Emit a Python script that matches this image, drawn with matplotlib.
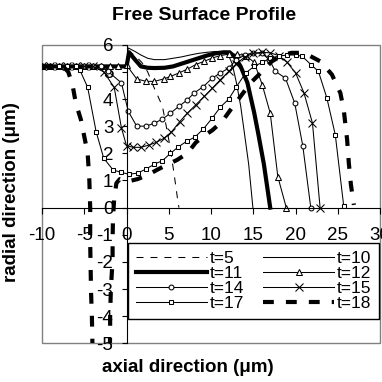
import matplotlib
matplotlib.use("Agg")
import matplotlib.pyplot as plt
from matplotlib.patches import Rectangle

plt.rcParams['font.family'] = ['Liberation Sans', 'DejaVu Sans']
plt.rcParams['axes.unicode_minus'] = False

# ---- data (axial x, radial r in um) ----
flat = 5.2

t5_x = [-10, 0, 0.3, 1.0, 1.8, 2.5, 3.2, 4.25, 5.0, 5.6, 6.0, 6.2]
t5_r = [flat, flat, 5.75, 5.6, 5.35, 5.0, 4.46, 3.73, 2.5, 1.3, 0.4, 0.0]

t10_x = [-10, 0, 0.2, 1.0, 1.7, 2.5, 3.3, 4.5, 5.5, 6.5, 7.5, 8.5, 9.5, 10.5,
         11.5, 12.0, 12.5, 13.0, 13.5, 13.9, 14.45, 14.95]
t10_r = [flat, flat, 5.88, 5.75, 5.62, 5.5, 5.45, 5.45, 5.5, 5.55, 5.62, 5.68,
         5.72, 5.75, 5.75, 5.65, 5.3, 4.6, 3.75, 2.85, 1.6, 0.0]

t11_x = [-10, 0, 0.3, 1.0, 1.7, 2.5, 3.3, 4.5, 5.5, 6.5, 7.5, 8.5, 9.5, 10.5,
         11.5, 12.2, 12.8, 13.5, 14.3, 15.1, 15.6, 16.25, 17.0]
t11_r = [flat, flat, 5.72, 5.45, 5.2, 5.15, 5.14, 5.15, 5.2, 5.3, 5.4, 5.5,
         5.6, 5.68, 5.72, 5.72, 5.55, 5.2, 4.6, 3.5, 2.7, 1.6, 0.0]

t12_x = [-10, -9, -8, -7, -6, -5, -4, -3, -2, -1, 0, 1.2, 2.3, 3.3, 4.4, 5.2,
         6.2, 7.2, 8.2, 9.2, 10.15, 11.1, 12.1, 13.1, 14.1, 15.1, 16.05, 17.0,
         17.9, 18.9]
t12_r = [flat, flat, flat, flat, flat, flat, flat, flat, flat, flat, 5.25,
         4.74, 4.65, 4.65, 4.74, 4.83, 4.96, 5.1, 5.27, 5.39, 5.51, 5.6, 5.65,
         5.65, 5.6, 5.35, 4.53, 3.48, 1.14, 0.0]

t14_x = [-10, -9, -8, -7, -6, -5, -4, -3, -2.2, -0.6, 0.2, 1.2, 2.3, 3.3, 4.25,
         5.2, 6.2, 7.2, 8.0, 9.1, 10.15, 11.1, 12.1, 13.0, 14.0, 15.0, 16.0,
         16.9, 17.6, 18.8, 19.9, 20.85, 21.8]
t14_r = [flat, flat, flat, flat, flat, flat, flat, flat, 5.02, 4.59, 3.55, 3.0,
         3.0, 3.11, 3.26, 3.48, 3.73, 3.97, 4.22, 4.46, 4.77, 4.96, 5.14, 5.45,
         5.62, 5.7, 5.68, 5.45, 5.02, 4.77, 3.85, 2.28, 0.0]

t15_x = [-10, -9, -8, -7, -6, -5, -4, -2.7, -1.46, -0.6, 0.0, 0.8, 1.7, 2.6,
         3.5, 4.4, 5.3, 6.3, 7.2, 8.2, 9.2, 10.15, 11.1, 12.1, 13.0, 14.0,
         15.0, 16.0, 17.0, 18.0, 19.0, 20.0, 21.0, 22.0, 22.9]
t15_r = [flat, flat, flat, flat, flat, flat, flat, 5.0, 4.43, 2.93, 2.28, 2.22,
         2.22, 2.3, 2.4, 2.55, 2.78, 3.17, 3.48, 3.79, 4.1, 4.4, 4.71, 5.02,
         5.3, 5.55, 5.68, 5.72, 5.7, 5.6, 5.35, 4.96, 4.22, 3.11, 0.0]

t17_x = [-10, -9, -8, -7, -6, -5.5, -4.6, -3.6, -2.7, -1.6, -0.67, 0.3, 1.3,
         2.3, 3.3, 4.25, 5.2, 6.1, 7.1, 8.1, 9.1, 10.15, 11.1, 12.1, 13.0,
         14.1, 15.1, 16.05, 17.0, 18.0, 19.0, 20.0, 20.8, 21.8, 22.7, 23.7,
         24.7, 25.7]
t17_r = [flat, flat, flat, flat, flat, 5.05, 4.43, 2.8, 1.82, 1.39, 1.3, 1.23,
         1.27, 1.42, 1.6, 1.73, 2.0, 2.23, 2.44, 2.6, 2.9, 3.3, 3.7, 4.0, 4.45,
         4.96, 5.2, 5.35, 5.5, 5.58, 5.62, 5.62, 5.57, 5.27, 5.02, 4.04, 2.68,
         0.05]

t18_x = [-10, -7.5, -6.9, -6.4, -6.0, -5.4, -5.0, -4.6, -4.4, -4.3, -4.3,
         -4.25, -4.2, -4.1, -4.05, -4.0, -3.0, -2.0, -1.94, -1.94, -1.85,
         -1.65, -1.65, -1.6, -1.46, -1.2, -0.8, 0.1, 1.3, 2.5, 3.6, 4.8, 6.0,
         7.2, 8.2, 9.2, 10.15, 11.3, 12.3, 13.5, 14.7, 16.0, 17.2, 18.5, 19.5,
         20.5, 21.5, 22.9, 24.3, 25.3, 25.7, 26.1, 26.3, 26.55, 26.9]
t18_r = [flat, flat, 5.0, 4.53, 3.85, 3.24, 2.62, 2.0, 1.0, 0.0, -1.3, -2.2,
         -3.1, -4.0, -4.8, -5.6, -6.2, -5.6, -4.6, -3.96, -2.97, -1.93, -1.13,
         -0.39, 0.35, 0.9, 1.05, 0.96, 1.05, 1.2, 1.39, 1.58, 1.76, 2.0, 2.4,
         2.65, 2.85, 3.17, 3.6, 4.1, 4.6, 5.0, 5.39, 5.62, 5.7, 5.7, 5.62,
         5.39, 4.9, 4.22, 3.6, 2.5, 1.64, 0.84, 0.1]

x_ticks = [-10, -5, 0, 5, 10, 15, 20, 25, 30]
y_ticks = [-5, -4, -3, -2, -1, 0, 1, 2, 3, 4, 5, 6]

# ---- figure ----
fig = plt.figure(figsize=(3.82, 3.82), dpi=100)
ax = fig.add_axes([0.110, 0.101, 0.885, 0.782])

thin = dict(color='black', lw=0.75)
mk = dict(markerfacecolor='white', markeredgecolor='black', markeredgewidth=0.75)

l5, = ax.plot(t5_x, t5_r, ls=(0, (6.7, 6.7)), label='t=5', **thin)
l10, = ax.plot(t10_x, t10_r, label='t=10', **thin)
l11, = ax.plot(t11_x, t11_r, color='black', lw=3.0, label='t=11')
l12, = ax.plot(t12_x, t12_r, marker='^', ms=4, label='t=12', **thin, **mk)
l14, = ax.plot(t14_x, t14_r, marker='o', ms=3.5, label='t=14', **thin, **mk)
l15, = ax.plot(t15_x, t15_r, marker='x', ms=6, label='t=15', **thin, **mk)
l17, = ax.plot(t17_x, t17_r, marker='s', ms=3.5, label='t=17', **thin, **mk)
l18, = ax.plot(t18_x, t18_r, color='black', lw=3.0, ls=(0, (2.6, 2.9)),
               label='t=18')

ax.set_xlim(-10, 30)
ax.set_ylim(-5, 6)
ax.set_xticks(x_ticks)
ax.set_yticks(y_ticks)

# excel-like axes crossing at the origin
ax.spines['left'].set_position(('data', 0))
ax.spines['bottom'].set_position(('data', 0))
ax.spines['top'].set_visible(False)
ax.spines['right'].set_visible(False)
for s in ('left', 'bottom'):
    ax.spines[s].set_linewidth(0.8)
ax.add_patch(Rectangle((0, 0), 1, 1, transform=ax.transAxes, fill=False,
                       edgecolor='#808080', lw=1.0, zorder=0, clip_on=False))
ax.tick_params(axis='x', direction='out', length=4.3, width=0.8, pad=10,
               labelsize=13.5)
ax.tick_params(axis='y', direction='out', length=3.5, width=0.8, pad=6,
               labelsize=13.5)

order = [l5, l11, l14, l17, l10, l12, l15, l18]
leg = ax.legend(handles=order, labels=[h.get_label() for h in order], ncol=2,
                loc='upper left', bbox_to_anchor=(128 / 382, 1 - 243 / 382),
                bbox_transform=fig.transFigure, borderaxespad=0,
                fontsize=12.5, frameon=True, fancybox=False, framealpha=1,
                edgecolor='black', handlelength=4.1, handletextpad=0.15,
                columnspacing=1.1, labelspacing=0.0, borderpad=0.45,
                numpoints=1)
leg.get_frame().set_linewidth(1.0)

fig.text(204 / 382, 1 - 15.5 / 382, 'Free Surface Profile', ha='center',
         va='center', fontsize=14, fontweight='bold')
fig.text(188 / 382, 1 - 367 / 382, 'axial direction (μm)', ha='center',
         va='center', fontsize=13.5, fontweight='bold')
fig.text(12 / 382, 1 - 192 / 382, 'radial direction (μm)', ha='center',
         va='center', rotation=90, fontsize=13.5, fontweight='bold')

fig.savefig('out.png', dpi=100)
